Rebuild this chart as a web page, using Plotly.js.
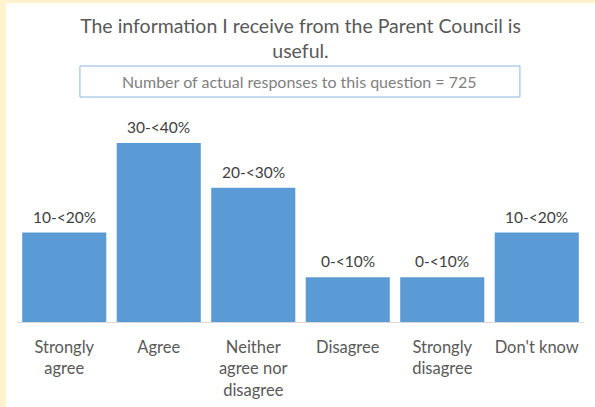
<!DOCTYPE html>
<html>
<head>
<script src="https://cdn.plot.ly/plotly-3.0.1.min.js"></script>
<style>
html,body{margin:0;padding:0;background:#fff2cc;width:595px;height:407px;overflow:hidden;}
#chart{position:absolute;left:6px;top:3px;width:589px;height:404px;background:#fff;}
</style>
</head>
<body>
<div id="chart"></div>
<script>
const categories = ["Strongly<br>agree", "Agree", "Neither<br>agree nor<br>disagree", "Disagree", "Strongly<br>disagree", "Don't know"];
const values = [20, 40, 30, 10, 10, 20];
const valueLabels = ["10-<20%", "30-<40%", "20-<30%", "0-<10%", "0-<10%", "10-<20%"];
const chartTitle = "The information I receive from the Parent Council is<br>useful.";
const subtitle = "Number of actual responses to this question = 725";

const font = "Lato, 'Open Sans', sans-serif";

const annotations = categories.map((c, i) => ({
  x: c, y: values[i], xref: 'x', yref: 'y',
  text: valueLabels[i], showarrow: false, yanchor: 'bottom', yshift: 5,
  font: {family: font, size: 15.5, color: '#404040'}
}));
annotations.push({
  x: 0.499, y: 1.221, xref: 'paper', yref: 'paper', text: subtitle,
  showarrow: false, xanchor: 'center', yanchor: 'middle',
  font: {family: font, size: 16, color: '#7f7f7f'}
});

const trace = {
  type: 'bar', x: categories, y: values,
  marker: {color: '#5b9bd5'},
  hoverinfo: 'none'
};

const layout = {
  width: 589, height: 404,
  margin: {l: 11, r: 11, t: 122, b: 85},
  paper_bgcolor: '#ffffff', plot_bgcolor: '#ffffff',
  bargap: 0.11,
  showlegend: false,
  title: {
    text: chartTitle, x: 0.5, xanchor: 'center', xref: 'container',
    y: 1 - 30/404, yref: 'container', yanchor: 'top',
    font: {family: font, size: 19.5, color: '#595959'}
  },
  xaxis: {
    type: 'category', showgrid: false, zeroline: false,
    showline: true, linecolor: '#d9d9d9', linewidth: 1,
    ticks: '', ticklen: 0, ticklabelstandoff: 10,
    tickfont: {family: font, size: 16.5, color: '#595959'}
  },
  yaxis: {
    range: [0, 44.02], visible: false, showgrid: false, zeroline: false
  },
  shapes: [{
    type: 'rect', xref: 'paper', yref: 'paper',
    x0: 0.111, x1: 0.887, y0: 1.142, y1: 1.2995,
    line: {color: '#8fb4e3', width: 1}, fillcolor: 'rgba(0,0,0,0)'
  }],
  annotations: annotations
};

Plotly.newPlot('chart', [trace], layout, {displayModeBar: false, staticPlot: true});
</script>
</body>
</html>
